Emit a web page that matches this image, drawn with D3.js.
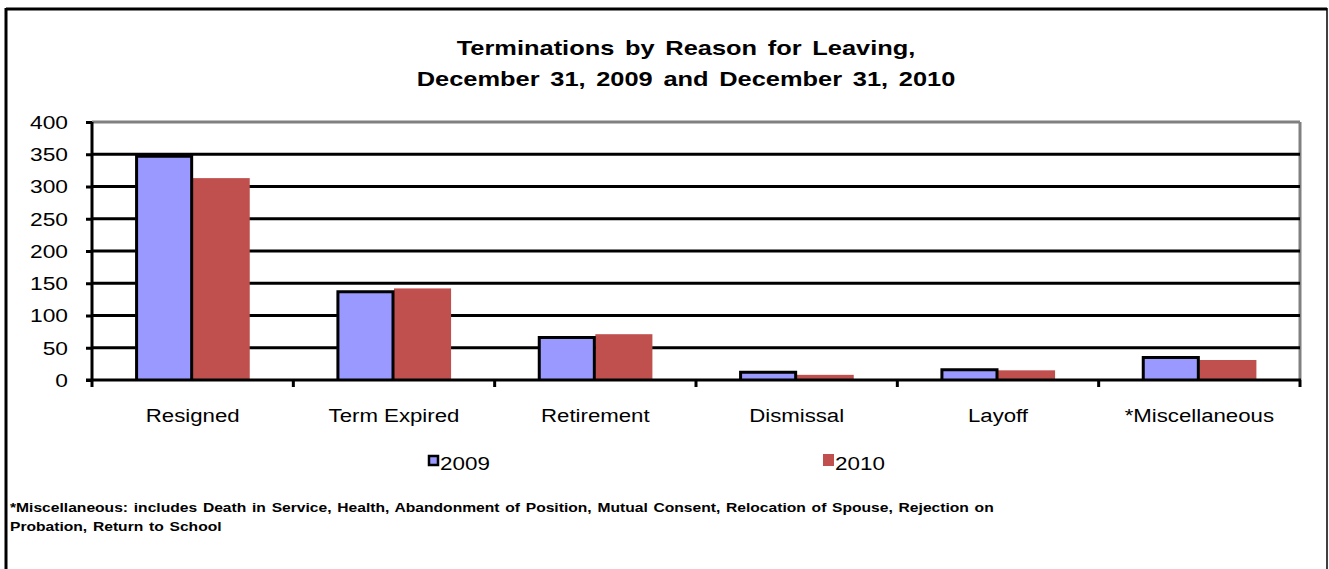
<!DOCTYPE html>
<html>
<head>
<meta charset="utf-8">
<script src="https://cdn.jsdelivr.net/npm/d3@7"></script>
<style>
  html, body { margin: 0; padding: 0; background: #fff; }
  svg { display: block; font-family: "Liberation Sans", Arial, sans-serif; }
</style>
</head>
<body>
<svg id="chart" width="1329" height="569"></svg>
<script>
// Terminations by reason, two year-end snapshots
const categories = ["Resigned", "Term Expired", "Retirement", "Dismissal", "Layoff", "*Miscellaneous"];
const series = ["2009", "2010"];
const values2009 = [347, 137, 66, 12, 16, 35];
const values2010 = [313, 142, 71, 8, 15, 31];
const yTicks = [0, 50, 100, 150, 200, 250, 300, 350, 400];
const titleLines = ["Terminations by Reason for Leaving,", "December 31, 2009 and December 31, 2010"];
const footnoteLines = [
  "*Miscellaneous:  includes Death in Service,  Health, Abandonment of Position,  Mutual Consent, Relocation of Spouse, Rejection on",
  "Probation, Return to School"
];

const colors = { "2009": "#9999FF", "2010": "#C0504D" };
const seriesValues = { "2009": values2009, "2010": values2010 };

const svg = d3.select("#chart");
const W = 1329, H = 569;
const plot = { left: 92, right: 1300, top: 122, bottom: 380 };
const SX = 1.15; // horizontal text stretch

function stretchedText(sel, x, y, sx = SX) {
  return sel.attr("transform", `translate(${x},${y}) scale(${sx},1)`);
}

// Outer frame
svg.append("rect").attr("x", 0).attr("y", 0).attr("width", W).attr("height", H).attr("fill", "#fff");
svg.append("line").attr("x1", 6).attr("x2", 1327).attr("y1", 9).attr("y2", 9)
  .attr("stroke", "#000").attr("stroke-width", 3);
svg.append("line").attr("x1", 6).attr("x2", 6).attr("y1", 8).attr("y2", H)
  .attr("stroke", "#000").attr("stroke-width", 3);
svg.append("line").attr("x1", 1327).attr("x2", 1327).attr("y1", 8).attr("y2", H)
  .attr("stroke", "#000").attr("stroke-width", 1.5);

// Title
titleLines.forEach((t, i) => {
  stretchedText(svg.append("text"), 686, 55 + i * 31, 1.21)
    .attr("text-anchor", "middle")
    .attr("font-size", 21).attr("font-weight", "bold")
    .attr("word-spacing", 3)
    .text(t);
});

// Scales
const y = d3.scaleLinear().domain([0, 400]).range([plot.bottom, plot.top]);
const x0 = d3.scaleBand().domain(categories).range([plot.left, plot.right]).padding(0);
const groupW = x0.bandwidth() * 0.567;
const x1 = d3.scaleBand().domain(series).range([0, groupW]).padding(0);

// Plot area border (top and right, grey)
svg.append("line").attr("x1", plot.left).attr("x2", plot.right).attr("y1", y(400)).attr("y2", y(400))
  .attr("stroke", "#808080").attr("stroke-width", 3);
svg.append("line").attr("x1", plot.right).attr("x2", plot.right).attr("y1", y(400)).attr("y2", plot.bottom)
  .attr("stroke", "#808080").attr("stroke-width", 3);

// Gridlines
svg.append("g").selectAll("line")
  .data(yTicks.filter(v => v > 0 && v < 400))
  .join("line")
  .attr("x1", plot.left).attr("x2", plot.right)
  .attr("y1", d => y(d)).attr("y2", d => y(d))
  .attr("stroke", "#000").attr("stroke-width", 3);

// Bars
const groups = svg.append("g").selectAll("g")
  .data(categories)
  .join("g")
  .attr("transform", d => `translate(${x0(d) + (x0.bandwidth() - groupW) / 2},0)`);

groups.selectAll("rect")
  .data((c, i) => series.map(s => ({ s, v: seriesValues[s][i] })))
  .join("rect")
  .attr("x", d => x1(d.s))
  .attr("width", x1.bandwidth())
  .attr("y", d => y(d.v))
  .attr("height", d => plot.bottom - y(d.v))
  .attr("fill", d => colors[d.s]);

// 2009 bars carry a black outline on top and sides
groups.selectAll("path.outline")
  .data((c, i) => [{ v: values2009[i] }])
  .join("path")
  .attr("class", "outline")
  .attr("d", d => {
    const xa = x1("2009") + 1, xb = x1("2009") + x1.bandwidth() - 1;
    return `M${xa},${plot.bottom}V${y(d.v)}H${xb}V${plot.bottom}`;
  })
  .attr("fill", "none").attr("stroke", "#000").attr("stroke-width", 3);

// Y axis
const yAxis = svg.append("g")
  .attr("transform", `translate(${plot.left},0)`)
  .call(d3.axisLeft(y).tickValues(yTicks).tickSize(6).tickPadding(18).tickFormat(d3.format("d")));
yAxis.select(".domain").attr("stroke", "#000").attr("stroke-width", 3).attr("d", `M0,${plot.top}V${plot.bottom + 1}`);
yAxis.selectAll(".tick line").attr("stroke", "#000").attr("stroke-width", 3);
yAxis.selectAll(".tick text")
  .attr("font-size", 18).attr("fill", "#000")
  .attr("font-family", "Liberation Sans, Arial, sans-serif")
  .attr("dy", "0.36em")
  .attr("transform", `translate(-24,0) scale(${SX * 1.1},1) translate(24,0)`);

// X axis
const xAxis = svg.append("g")
  .attr("transform", `translate(0,${plot.bottom})`);
xAxis.append("line").attr("x1", plot.left - 6).attr("x2", plot.right + 1)
  .attr("y1", 0).attr("y2", 0).attr("stroke", "#000").attr("stroke-width", 3);
const boundaries = categories.map(c => x0(c)).concat([plot.right]);
xAxis.selectAll("line.tick")
  .data(boundaries)
  .join("line")
  .attr("class", "tick")
  .attr("x1", d => d).attr("x2", d => d)
  .attr("y1", 0).attr("y2", 7)
  .attr("stroke", "#000").attr("stroke-width", 3);

categories.forEach(c => {
  stretchedText(svg.append("text"), x0(c) + x0.bandwidth() / 2, 422, 1.17)
    .attr("text-anchor", "middle")
    .attr("font-size", 19)
    .text(c);
});

// Legend
const legendItems = [
  { s: "2009", x: 428 },
  { s: "2010", x: 823 }
];
legendItems.forEach(it => {
  if (it.s === "2009") {
    svg.append("rect").attr("x", it.x + 1).attr("y", 456).attr("width", 9).attr("height", 9)
      .attr("fill", colors[it.s]).attr("stroke", "#000").attr("stroke-width", 2.5);
  } else {
    svg.append("rect").attr("x", it.x).attr("y", 454).attr("width", 11).attr("height", 12)
      .attr("fill", colors[it.s]);
  }
  stretchedText(svg.append("text"), it.x + 12, 470, 1.18)
    .attr("font-size", 19)
    .text(it.s);
});

// Footnote
footnoteLines.forEach((t, i) => {
  stretchedText(svg.append("text"), 10, 512 + i * 19, 1.175)
    .attr("font-size", 13.3).attr("font-weight", "bold")
    .attr("word-spacing", 1.2)
    .text(t);
});
</script>
</body>
</html>
